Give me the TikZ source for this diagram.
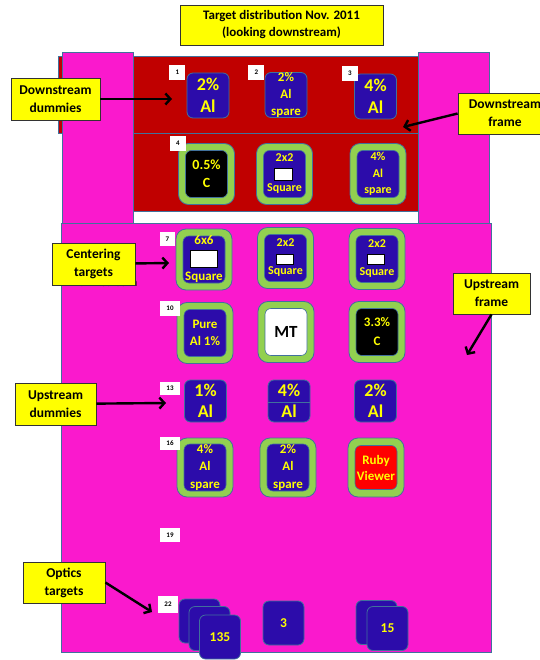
\documentclass[tikz,border=0pt]{standalone}
\usepackage{fontspec}
\setmainfont{Carlito}
\usetikzlibrary{arrows.meta,positioning}
\definecolor{framepink}{RGB}{250,25,205}
\definecolor{framered}{RGB}{192,0,0}
\definecolor{targetblue}{RGB}{44,12,170}
\definecolor{holdergreen}{RGB}{146,208,80}
\definecolor{edgeblue}{RGB}{65,113,156}
\definecolor{rubyred}{RGB}{255,0,0}
\definecolor{labelyellow}{RGB}{255,255,0}
\tikzset{
    frame-box/.style = {fill=framepink, draw=edgeblue, line width=0.8pt},
    red-box/.style = {fill=framered, draw=edgeblue, line width=0.8pt},
    target-box/.style = {draw=edgeblue, fill=targetblue, line width=0.8pt, rectangle, rounded corners=6pt, minimum width=42pt, minimum height=45pt, inner sep=0pt, text=labelyellow, align=center, font=\bfseries\fontsize{18}{22}\selectfont},
    holder-box/.style = {draw=edgeblue, fill=holdergreen, line width=0.8pt, rectangle, rounded corners=10pt, minimum width=56pt, minimum height=61pt},
    inner-box/.style = {draw=edgeblue, fill=targetblue, line width=0.6pt, rectangle, rounded corners=6pt, minimum width=42pt, minimum height=47pt, inner sep=0pt, text=labelyellow, align=center, font=\bfseries\fontsize{13}{17}\selectfont},
    hole-box/.style = {draw=black, fill=white, line width=0.9pt, inner sep=0pt},
    num-box/.style = {fill=white, minimum width=16pt, minimum height=15pt, inner sep=1pt, font=\bfseries\fontsize{7}{8}\selectfont},
    callout-box/.style = {draw=black!80, fill=labelyellow, line width=0.8pt, rectangle, inner sep=2pt, align=center, font=\bfseries\fontsize{13.5}{18}\selectfont},
    pointer/.style = {draw=black, line width=2.4pt, -{Straight Barb[length=5pt,width=11pt]}},
}

\begin{document}
\begin{tikzpicture}[x=1pt, y=-1pt]
\useasboundingbox (0,0) rectangle (539,660);

% frames
\draw[red-box] (58,56) rectangle (418,133);
\draw[red-box] (62,133) rectangle (418,211);
\draw[frame-box] (62,52) rectangle (133,223);
\draw[frame-box] (418,52) rectangle (489,223);
\draw[frame-box] (61,223) rectangle (491,652);

\node[callout-box, minimum width=203pt, minimum height=40pt, font=\bfseries\fontsize{13}{17}\selectfont] (title) at (281.5,25) {Target distribution Nov. 2011\\(looking downstream)};

% downstream dummies
\node[target-box] (t1) at (208,95.5) {2\%\\Al};
\node[target-box, font=\bfseries\fontsize{13}{17}\selectfont] (t2) at (286,95) {2\%\\Al\\spare};
\node[target-box] (t3) at (375.5,96.5) {4\%\\Al};
\node[num-box, left=1pt of t1.north west] (n1) {1};
\node[num-box, left=0pt of t2.north west] (n2) {2};
\node[num-box, left=-4pt of t3.north west] (n3) {3};

% downstream row
\node[holder-box] (h4) at (206.5,174) {};
\node[inner-box, fill=black, font=\bfseries\fontsize{14}{18}\selectfont] (c4) at (h4) {0.5\%\\C};
\node[holder-box] (h5) at (284.5,174) {};
\node[inner-box, font=\bfseries\fontsize{12}{30}\selectfont] (c5) at (h5) {2x2\\Square};
\node[hole-box, minimum width=18pt, minimum height=12pt] (w5) at (283,174) {};
\node[holder-box] (h6) at (378,174) {};
\node[inner-box, font=\bfseries\fontsize{12}{16.5}\selectfont] (c6) at (h6) {4\%\\Al\\spare};
\node[num-box, left=-8pt] (n4) at (h4.north west) {4};

% centering targets
\node[holder-box] (h7) at (204,259.5) {};
\node[inner-box, font=\bfseries\fontsize{13}{36}\selectfont] (c7) at (h7) {6x6\\Square};
\node[hole-box, minimum width=27pt, minimum height=17pt] (w7) at (203.5,258.5) {};
\node[holder-box] (h8) at (285.5,258) {};
\node[inner-box, font=\bfseries\fontsize{12}{28}\selectfont] (c8) at (h8) {2x2\\Square};
\node[hole-box, minimum width=17pt, minimum height=10pt] (w8) at (284.5,259) {};
\node[holder-box] (h9) at (377,259) {};
\node[inner-box, font=\bfseries\fontsize{12}{28}\selectfont] (c9) at (h9) {2x2\\Square};
\node[hole-box, minimum width=17pt, minimum height=10pt] (w9) at (375.5,259.5) {};

\node[holder-box] (h10) at (205,333) {};
\node[inner-box] (c10) at (h10) {Pure\\Al 1\%};
\node[holder-box] (h11) at (286,332) {};
\node[inner-box, fill=white, text=black, font=\bfseries\fontsize{17}{20}\selectfont] (c11) at (h11) {MT};
\node[holder-box] (h12) at (377,332) {};
\node[inner-box, fill=black, font=\bfseries\fontsize{13}{19}\selectfont] (c12) at (h12) {3.3\%\\C};

% upstream dummies
\node[target-box, minimum height=42pt, font=\bfseries\fontsize{18}{21}\selectfont] (t13) at (205.5,401) {1\%\\Al};
\node[target-box, minimum height=42pt, font=\bfseries\fontsize{18}{21}\selectfont] (t14) at (289,401) {4\%\\Al};
\draw[edgeblue, line width=0.8pt] ([yshift=-1pt]t14.west) -- ([yshift=-1pt]t14.east);
\node[target-box, minimum height=42pt, font=\bfseries\fontsize{18}{21}\selectfont] (t15) at (375.5,401) {2\%\\Al};

\node[holder-box, minimum height=59pt] (h16) at (205,467.5) {};
\node[inner-box, font=\bfseries\fontsize{13}{17.5}\selectfont] (c16) at (h16) {4\%\\Al\\spare};
\node[holder-box, minimum height=59pt] (h17) at (288,467.5) {};
\node[inner-box, font=\bfseries\fontsize{13}{17.5}\selectfont] (c17) at (h17) {2\%\\Al\\spare};
\node[holder-box, minimum height=59pt] (h18) at (376,467.5) {};
\node[inner-box, fill=rubyred, minimum height=44pt, font=\bfseries\fontsize{13}{16}\selectfont] (c18) at (h18) {Ruby\\Viewer};

% optics targets
\node[target-box, minimum width=41pt, minimum height=44pt] (s1) at (199.5,621) {};
\node[target-box, minimum width=41pt, minimum height=44pt] (s2) at (209.5,628.5) {};
\node[target-box, minimum width=41pt, minimum height=44pt, font=\bfseries\fontsize{13.5}{16}\selectfont] (s3) at (220,637) {135};
\node[target-box, minimum width=41pt, minimum height=44pt, font=\bfseries\fontsize{13.5}{16}\selectfont] (s4) at (283.5,623) {3};
\node[target-box, minimum width=41pt, minimum height=44pt] (s5) at (376.5,622.5) {};
\node[target-box, minimum width=41pt, minimum height=44pt, font=\bfseries\fontsize{13.5}{16}\selectfont] (s6) at (387.5,628.5) {15};

\node[num-box, minimum width=15pt, minimum height=14pt] (n7) at (167.5,239) {7};
\node[num-box, minimum width=20pt] (n10) at (170,308) {10};
\node[num-box, minimum width=20pt, minimum height=13pt] (n13) at (170,388.5) {13};
\node[num-box, minimum width=20pt, minimum height=13pt] (n16) at (170,443.5) {16};
\node[num-box, minimum width=20pt, minimum height=14pt] (n19) at (170,535) {19};
\node[num-box, minimum width=20pt, minimum height=17pt] (n22) at (168,604.5) {22};

% callouts
\node[callout-box, minimum width=89pt, minimum height=42pt] (dd) at (55.5,99) {Downstream\\dummies};
\node[callout-box, minimum width=94pt, minimum height=41pt] (df) at (505,113.5) {Downstream\\frame};
\node[font=\bfseries\fontsize{12.5}{14}\selectfont] (ct-under) at (104,282.5) {Downstream};
\node[callout-box, minimum width=83pt, minimum height=42pt] (ct) at (93.5,264) {Centering\\targets};
\node[callout-box, minimum width=77pt, minimum height=41pt] (uf) at (491.5,293.5) {Upstream\\frame};
\node[callout-box, minimum width=81pt, minimum height=42pt] (ud) at (55.5,404) {Upstream\\dummies};
\node[callout-box, minimum width=82pt, minimum height=41pt] (ot) at (64,582.5) {Optics\\targets};

\coordinate (dd-tip) at (172,99);
\coordinate (df-tip) at (403,127);
\coordinate (ct-tip) at (169,263);
\coordinate (uf-tip) at (467,355);
\coordinate (ud-tip) at (166,403);
\coordinate (ot-tip) at (152,612);
\draw[pointer] (dd) -- (dd-tip);
\draw[pointer] (df.west) -- (df-tip);
\draw[pointer] (ct) -- (ct-tip);
\draw[pointer] (uf.south) -- (uf-tip);
\draw[pointer] (ud) -- (ud-tip);
\draw[pointer] (ot.east) -- (ot-tip);
\end{tikzpicture}
\end{document}
